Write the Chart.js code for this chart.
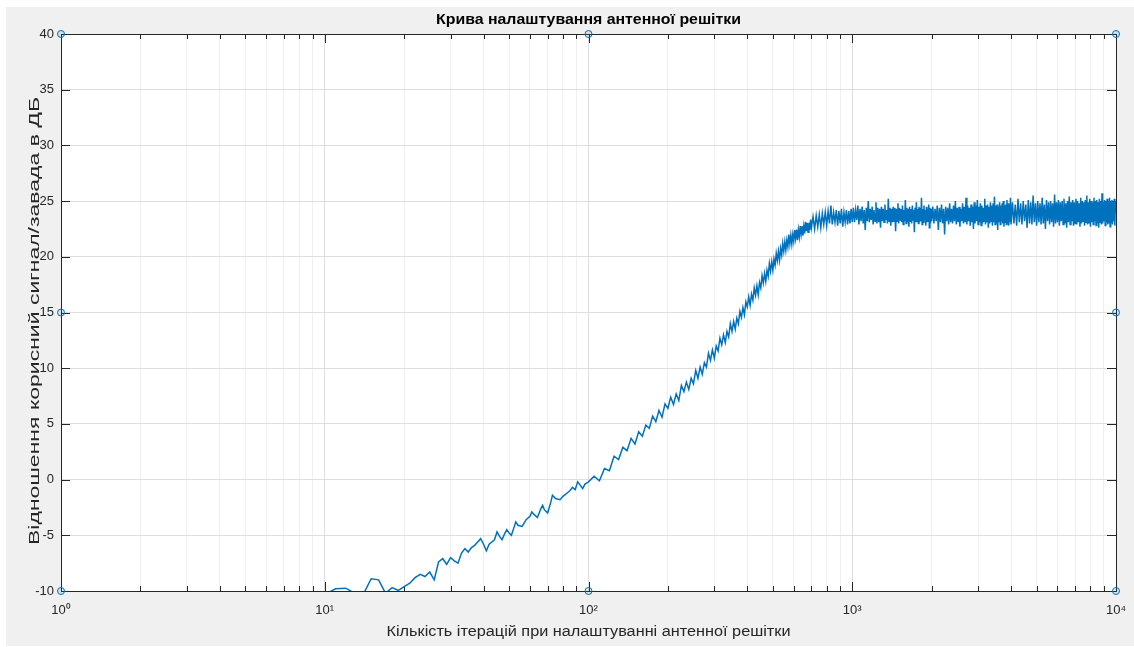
<!DOCTYPE html>
<html>
<head>
<meta charset="utf-8">
<script src="https://cdn.jsdelivr.net/npm/chart.js@4.4.1/dist/chart.umd.min.js"></script>
<style>
  html, body { margin: 0; padding: 0; background: #fff; }
  #wrap { position: relative; width: 1134px; height: 647px; }
</style>
</head>
<body>
<div id="wrap"><canvas id="c" width="1134" height="647"></canvas></div>
<script>
// iteration counts (x) and SNR in dB (y)
const iters = [
  10, 11, 12, 13, 14, 15, 16, 17, 18, 19, 20, 21, 22, 23, 24, 25, 26, 27, 28, 29, 30, 31, 32, 33, 34, 35, 36, 37, 38, 39, 40, 41,
  42, 44, 45, 46, 47, 48, 49, 50, 51, 52, 53, 54, 56, 57, 58, 60, 61, 62, 64, 66, 67, 68, 70, 72, 73, 75, 78, 80, 83, 85, 87, 89, 91, 93, 95, 97, 100,
  105, 110, 115, 120, 125, 130, 135, 140, 145, 150, 155, 160, 165, 170, 175, 180, 185, 190, 195, 200,
  205, 210, 215, 220, 225, 230, 235, 240, 245, 250, 255, 260, 265, 270, 275, 280, 285, 290, 295, 300,
  305, 310, 315, 320, 325, 330, 335, 340, 345, 350, 355, 360, 365, 370, 375, 380, 385, 390, 395, 400,
  405, 410, 415, 420, 425, 430, 435, 440, 445, 450, 455, 460, 465, 470, 475, 480, 485, 490, 495, 500,
  505, 510, 515, 520, 525, 530, 535, 540, 545, 550, 555, 560, 565, 570, 575, 580, 585, 590, 595, 600,
  605, 610, 615, 620, 625, 630, 635, 640, 645, 650, 655, 660, 665, 670, 675, 680, 685, 690, 695, 700,
  710, 720, 730, 740, 750, 760, 770, 780, 790, 800, 810, 820, 830, 840, 850, 860, 870, 880, 890, 900,
  910, 920, 930, 940, 950, 960, 970, 980, 990, 1000,
  1010, 1020, 1030, 1040, 1050, 1060, 1070, 1080, 1090, 1100, 1110, 1120, 1130, 1140, 1150, 1160, 1170, 1180, 1190, 1200,
  1210, 1220, 1230, 1240, 1250, 1260, 1270, 1280, 1290, 1300, 1310, 1320, 1330, 1340, 1350, 1360, 1370, 1380, 1390, 1400,
  1410, 1420, 1430, 1440, 1450, 1460, 1470, 1480, 1490, 1500, 1510, 1520, 1530, 1540, 1550, 1560, 1570, 1580, 1590, 1600,
  1610, 1620, 1630, 1640, 1650, 1660, 1670, 1680, 1690, 1700, 1710, 1720, 1730, 1740, 1750, 1760, 1770, 1780, 1790, 1800,
  1810, 1820, 1830, 1840, 1850, 1860, 1870, 1880, 1890, 1900, 1910, 1920, 1930, 1940, 1950, 1960, 1970, 1980, 1990, 2000,
  2020, 2040, 2060, 2080, 2100, 2120, 2140, 2160, 2180, 2200, 2220, 2240, 2260, 2280, 2300, 2320, 2340, 2360, 2380, 2400,
  2420, 2440, 2460, 2480, 2500, 2520, 2540, 2560, 2580, 2600, 2620, 2640, 2660, 2680, 2700, 2720, 2740, 2760, 2780, 2800,
  2820, 2840, 2860, 2880, 2900, 2920, 2940, 2960, 2980, 3000, 3020, 3040, 3060, 3080, 3100, 3120, 3140, 3160, 3180, 3200,
  3220, 3240, 3260, 3280, 3300, 3320, 3340, 3360, 3380, 3400, 3420, 3440, 3460, 3480, 3500, 3520, 3540, 3560, 3580, 3600,
  3620, 3640, 3660, 3680, 3700, 3720, 3740, 3760, 3780, 3800, 3820, 3840, 3860, 3880, 3900, 3920, 3940, 3960, 3980, 4000,
  4050, 4100, 4150, 4200, 4250, 4300, 4350, 4400, 4450, 4500, 4550, 4600, 4650, 4700, 4750, 4800, 4850, 4900, 4950, 5000,
  5050, 5100, 5150, 5200, 5250, 5300, 5350, 5400, 5450, 5500, 5550, 5600, 5650, 5700, 5750, 5800, 5850, 5900, 5950, 6000,
  6050, 6100, 6150, 6200, 6250, 6300, 6350, 6400, 6450, 6500, 6550, 6600, 6650, 6700, 6750, 6800, 6850, 6900, 6950, 7000,
  7050, 7100, 7150, 7200, 7250, 7300, 7350, 7400, 7450, 7500, 7550, 7600, 7650, 7700, 7750, 7800, 7850, 7900, 7950, 8000,
  8050, 8100, 8150, 8200, 8250, 8300, 8350, 8400, 8450, 8500, 8550, 8600, 8650, 8700, 8750, 8800, 8850, 8900, 8950, 9000,
  9050, 9100, 9150, 9200, 9250, 9300, 9350, 9400, 9450, 9500, 9550, 9600, 9650, 9700, 9750, 9800, 9850, 9900, 9950, 10000
];
const snr = [
  -10.3, -9.8, -9.75, -10.2, -10.3, -8.9, -9.0, -10.2, -9.7, -9.95, -9.6, -9.3, -8.8, -8.5, -8.7, -8.3, -9.0, -7.4, -7.1, -7.6, -7.0, -7.3, -7.5, -6.6, -6.2, -6.5, -6.1, -5.9, -5.6, -5.3, -5.8, -6.4,
  -5.8, -5.4, -4.7, -5.1, -5.4, -4.9, -4.5, -4.8, -5.0, -4.4, -3.8, -4.1, -4.2, -3.9, -3.6, -3.3, -2.9, -3.1, -3.4, -2.6, -2.3, -2.7, -3.0, -2.0, -1.4, -1.7, -1.8, -1.5, -1.2, -1.0, -0.7, -0.9, -0.2, -0.5, -0.8, -0.4, -0.2,
  0.3, -0.1, 1.0, 0.8, 2.1, 1.8, 2.9, 2.6, 3.7, 3.2, 4.3, 3.9, 4.9, 4.6, 5.7, 5.2, 6.2, 5.6, 6.8, 6.4,
  7.4, 6.75, 7.7, 7.1, 8.45, 7.9, 8.75, 8.1, 9.1, 8.6, 9.8, 9.1, 10.1, 9.45, 10.5, 10.1, 11.35, 10.7, 11.65, 10.9,
  12.0, 11.55, 12.7, 12.1, 13.0, 12.3, 13.3, 12.8, 14.0, 13.3, 14.2, 13.5, 14.5, 14.0, 15.1, 14.55, 15.45, 14.8, 15.95, 15.5,
  16.4, 15.65, 16.65, 16.1, 17.2, 16.55, 17.4, 16.6, 17.7, 17.2, 18.3, 17.65, 18.5, 17.8, 18.8, 18.25, 19.4, 18.7, 19.55, 18.8,
  19.8, 19.25, 20.3, 19.65, 20.5, 19.7, 20.75, 20.15, 21.2, 20.5, 21.35, 20.6, 21.5, 20.9, 22.0, 21.15, 21.95, 21.15, 22.0, 21.4,
  22.4, 21.65, 22.45, 21.5, 22.45, 21.8, 22.75, 22.0, 22.75, 21.9, 22.75, 22.1, 23.15, 22.3, 23.05, 22.2, 23.05, 22.4, 23.35, 22.6,
  23.6, 22.5, 23.7, 22.7, 23.8, 22.6, 23.9, 22.9, 24.0, 22.8, 24.1, 23.0, 24.6, 22.9, 24.0, 23.1, 24.2, 22.8, 24.1, 23.0,
  24.3, 22.7, 24.0, 23.1, 24.2, 22.9, 24.1, 23.0, 24.3, 23.1,
  24.4, 23.1, 24.2, 23.3, 24.6, 22.9, 24.3, 23.2, 24.5, 23.0, 24.2, 22.4, 24.4, 23.2, 25.0, 23.1, 24.3, 23.3, 24.5, 22.9,
  24.2, 23.2, 24.9, 23.0, 24.4, 23.1, 24.3, 22.6, 24.5, 23.2, 24.3, 23.1, 24.7, 23.3, 24.2, 23.0, 25.2, 23.2, 24.4, 22.8,
  24.3, 23.1, 24.5, 23.2, 24.4, 22.3, 24.3, 23.2, 24.8, 23.0, 24.4, 23.3, 24.3, 23.1, 24.6, 22.9, 24.2, 23.2, 25.1, 23.0,
  24.4, 23.1, 24.3, 22.7, 24.5, 23.2, 24.3, 23.0, 24.6, 23.3, 24.2, 22.2, 24.4, 23.1, 24.9, 23.2, 24.3, 23.0, 24.5, 23.1,
  24.4, 23.2, 25.3, 22.9, 24.3, 23.1, 24.6, 23.3, 24.2, 22.8, 24.5, 23.1, 24.3, 23.2, 24.7, 22.6, 24.4, 23.0, 24.3, 23.2,
  24.5, 23.0, 24.3, 23.2, 24.6, 22.4, 24.4, 23.1, 24.7, 23.0, 24.3, 22.0, 24.5, 23.2, 24.4, 22.9, 24.8, 23.1, 24.3, 23.0,
  24.6, 23.2, 25.0, 22.9, 24.4, 23.1, 24.5, 22.7, 24.3, 23.2, 24.8, 23.0, 24.5, 23.1, 25.3, 22.9, 24.6, 23.2, 24.4, 22.8,
  24.7, 23.1, 24.5, 22.5, 24.9, 23.0, 24.6, 23.2, 25.1, 22.9, 24.5, 23.1, 24.8, 22.8, 24.6, 23.0, 24.4, 23.2, 25.2, 22.9,
  24.6, 23.1, 24.7, 22.6, 24.5, 23.0, 24.9, 23.2, 24.6, 22.8, 24.8, 23.1, 25.4, 22.9, 24.6, 23.0, 24.7, 22.4, 24.5, 23.1,
  24.9, 22.9, 24.6, 23.2, 24.8, 23.0, 25.0, 22.7, 24.6, 23.1, 24.7, 22.9, 25.1, 23.0, 24.8, 22.8, 24.6, 23.1, 25.3, 22.9,
  24.9, 23.0, 24.7, 22.8, 25.2, 23.1, 24.8, 22.9, 25.0, 23.2, 24.7, 22.6, 25.1, 23.0, 24.9, 22.9, 25.5, 23.1, 24.8, 22.8,
  25.0, 23.1, 24.8, 22.9, 25.3, 23.0, 24.7, 22.5, 25.1, 23.2, 24.9, 22.9, 25.0, 23.1, 24.8, 22.7, 25.6, 23.0, 24.9, 23.1,
  25.1, 22.8, 24.9, 23.2, 25.0, 22.9, 25.2, 23.0, 24.8, 22.6, 25.0, 23.1, 25.4, 22.9, 24.9, 23.2, 25.1, 22.8, 24.9, 23.0,
  25.2, 22.9, 25.0, 23.1, 24.8, 22.7, 25.3, 23.0, 25.0, 23.2, 24.9, 22.8, 25.1, 23.1, 25.5, 22.9, 24.9, 23.0, 25.2, 22.7,
  25.0, 23.1, 24.9, 22.9, 25.3, 23.2, 25.0, 22.8, 25.1, 23.0, 24.9, 22.6, 25.2, 23.1, 25.0, 22.9, 25.7, 23.0, 24.9, 23.2,
  25.1, 22.8, 25.0, 23.1, 25.2, 22.9, 24.9, 23.0, 25.3, 22.7, 25.0, 23.1, 25.1, 22.9, 24.9, 23.2, 25.2, 22.8, 25.0, 24.0
];
if (iters.length !== snr.length) throw new Error("length mismatch " + iters.length + " / " + snr.length);

// the circle markers on the frame
const markX = [1, 100, 10000, 1, 10000, 1, 100, 10000];
const markY = [40, 40, 40, 15, 15, -10, -10, -10];

// axis ticks
const xMajor = [1, 10, 100, 1000, 10000];
const xTickLabels = ["10\u2070", "10\u00b9", "10\u00b2", "10\u00b3", "10\u2074"];
const xMinorSteps = [2, 3, 4, 5, 6, 7, 8, 9];
const yTicks = [-10, -5, 0, 5, 10, 15, 20, 25, 30, 35, 40];

const titleText = "Крива налаштування антенної решітки";
const xTitle = "Кількість ітерацій при налаштуванні антенної решітки";
const yTitle = "Відношення корисний сигнал/завада в ДБ";

const FONT = '"Liberation Sans", Arial, Helvetica, sans-serif';
const AXIS = "#262626";
const BLUE = "#0072BD";

const xTickVals = [];
xMajor.forEach((m, i) => {
  xTickVals.push(m);
  if (i < xMajor.length - 1) xMinorSteps.forEach((s) => xTickVals.push(m * s));
});

function fitText(ctx, text, x, y, width, rot) {
  ctx.save();
  ctx.translate(x, y);
  if (rot) ctx.rotate(rot);
  const w = ctx.measureText(text).width;
  ctx.scale(width / w, 1);
  ctx.fillText(text, 0, 0);
  ctx.restore();
}

const figure = {
  id: "figure",
  beforeDraw(chart) {
    const { ctx, chartArea: a } = chart;
    ctx.save();
    ctx.fillStyle = "#f0f0f0";
    ctx.fillRect(6, 7, chart.width - 6, chart.height - 8);
    ctx.fillStyle = "#ffffff";
    ctx.fillRect(a.left, a.top, a.right - a.left, a.bottom - a.top);
    ctx.restore();
  },
  beforeDatasetsDraw(chart) {
    const { ctx, chartArea: a, scales: { x, y } } = chart;
    ctx.save();
    ctx.strokeStyle = AXIS;
    ctx.lineWidth = 1;
    ctx.beginPath();
    x.ticks.forEach((t) => {
      const px = Math.round(x.getPixelForValue(t.value)) + 0.5;
      const len = xMajor.includes(t.value) ? 9 : 5;
      ctx.moveTo(px, a.bottom); ctx.lineTo(px, a.bottom - len);
      ctx.moveTo(px, a.top); ctx.lineTo(px, a.top + len);
    });
    y.ticks.forEach((t) => {
      const py = Math.round(y.getPixelForValue(t.value)) + 0.5;
      ctx.moveTo(a.left, py); ctx.lineTo(a.left + 9, py);
      ctx.moveTo(a.right, py); ctx.lineTo(a.right - 9, py);
    });
    ctx.stroke();
    ctx.strokeRect(Math.round(a.left) + 0.5, Math.round(a.top) + 0.5, Math.round(a.right - a.left), Math.round(a.bottom - a.top));
    ctx.restore();
  },
  afterDraw(chart) {
    const { ctx, chartArea: a } = chart;
    const cx = (a.left + a.right) / 2;
    ctx.save();
    ctx.textAlign = "center";
    ctx.textBaseline = "middle";
    ctx.fillStyle = "#000";
    ctx.font = "bold 14px " + FONT;
    fitText(ctx, titleText, cx, 20, 305);
    ctx.fillStyle = AXIS;
    ctx.font = "14px " + FONT;
    fitText(ctx, xTitle, cx, 632, 404);
    fitText(ctx, yTitle, 35, 321, 448, -Math.PI / 2);
    ctx.restore();
  }
};

new Chart(document.getElementById("c"), {
  type: "line",
  data: {
    datasets: [
      {
        data: iters.map((v, i) => ({ x: v, y: snr[i] })),
        borderColor: BLUE,
        borderWidth: 1.5,
        pointRadius: 0,
        tension: 0,
        order: 2
      },
      {
        data: markX.map((v, i) => ({ x: v, y: markY[i] })),
        showLine: false,
        pointRadius: 3.5,
        pointBorderWidth: 1,
        pointBorderColor: BLUE,
        pointBackgroundColor: "rgba(0,114,189,0.12)",
        clip: false,
        order: 1
      }
    ]
  },
  options: {
    responsive: false,
    animation: false,
    events: [],
    layout: { padding: { top: 34, right: 18, bottom: 0, left: 0 } },
    plugins: { legend: { display: false }, tooltip: { enabled: false } },
    scales: {
      x: {
        type: "logarithmic",
        min: 1,
        max: 10000,
        afterBuildTicks: (s) => { s.ticks = xTickVals.map((v) => ({ value: v })); },
        afterFit: (s) => { s.height = 56; s.paddingLeft = 0; s.paddingRight = 0; },
        border: { display: false },
        grid: {
          drawTicks: false,
          color: (c) => (c.tick && xMajor.includes(c.tick.value) ? "#dedede" : "#efefef")
        },
        ticks: {
          autoSkip: false,
          maxRotation: 0,
          padding: 12,
          color: AXIS,
          font: { family: FONT, size: 13 },
          callback: (v) => {
            const i = xMajor.indexOf(v);
            return i >= 0 ? xTickLabels[i] : "";
          }
        }
      },
      y: {
        type: "linear",
        min: -10,
        max: 40,
        afterBuildTicks: (s) => { s.ticks = yTicks.map((v) => ({ value: v })); },
        afterFit: (s) => { s.width = 61; },
        border: { display: false },
        grid: { drawTicks: false, color: "#dedede" },
        ticks: {
          padding: 7,
          color: AXIS,
          font: { family: FONT, size: 13 }
        }
      }
    }
  },
  plugins: [figure]
});
</script>
</body>
</html>
